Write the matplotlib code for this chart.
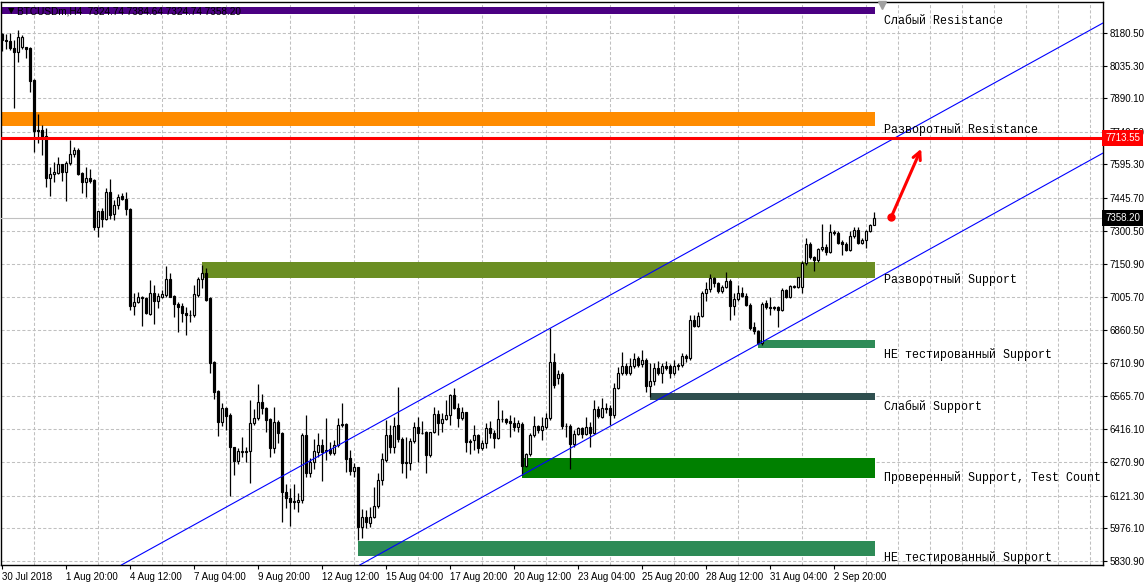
import matplotlib
matplotlib.use("Agg")
import numpy as np
import matplotlib.pyplot as plt
import matplotlib.transforms as mtransforms
from matplotlib.ticker import MultipleLocator

plt.rcParams['font.family'] = ['Liberation Sans', 'DejaVu Sans']

# === Dati: BTCUSDm, H4 ===
opens = [8175, 8150, 8146, 8112, 8097, 8116, 8116, 8112, 7971, 7750,
         7749, 7722, 7537, 7551, 7559, 7596, 7563, 7600, 7640, 7660,
         7556, 7519, 7534, 7525, 7318, 7388, 7353, 7471, 7373, 7413,
         7455, 7440, 7397, 6967, 6985, 7000, 7003, 6930, 7022, 6989,
         7007, 7014, 7086, 7010, 6974, 6965, 6936, 6927, 6924, 7014,
         7084, 7111, 6999, 6715, 6587, 6451, 6510, 6480, 6337, 6277,
         6316, 6320, 6319, 6443, 6466, 6537, 6510, 6461, 6332, 6451,
         6399, 6136, 6110, 6098, 6092, 6102, 6391, 6224, 6273, 6317,
         6347, 6320, 6328, 6310, 6347, 6436, 6440, 6288, 6231, 6248,
         5984, 6028, 6001, 6025, 6077, 6191, 6280, 6391, 6340, 6436,
         6372, 6268, 6265, 6365, 6425, 6399, 6403, 6302, 6403, 6483,
         6446, 6461, 6480, 6569, 6510, 6465, 6492, 6362, 6369, 6391,
         6335, 6354, 6421, 6402, 6377, 6461, 6461, 6454, 6443, 6425,
         6440, 6254, 6307, 6391, 6431, 6414, 6428, 6466, 6718, 6643,
         6663, 6433, 6431, 6351, 6394, 6421, 6394, 6428, 6402, 6506,
         6473, 6510, 6510, 6480, 6599, 6669, 6698, 6669, 6698, 6732,
         6707, 6725, 6611, 6632, 6688, 6666, 6698, 6698, 6666, 6698,
         6703, 6743, 6733, 6903, 6876, 6921, 7022, 7040, 7088, 7066,
         7034, 7051, 7077, 6967, 6995, 7025, 7010, 6970, 6870, 6856,
         6799, 6980, 6962, 6962, 6962, 6948, 7037, 7004, 7050, 7051,
         7051, 7158, 7241, 7182, 7170, 7219, 7226, 7207, 7295, 7290,
         7250, 7241, 7215, 7277, 7303, 7247, 7259, 7299, 7324.74]
highs = [8182, 8176, 8182, 8149, 8194, 8171, 8120, 8119, 7975, 7820,
         7771, 7756, 7585, 7605, 7630, 7599, 7612, 7704, 7674, 7667,
         7563, 7582, 7575, 7530, 7390, 7400, 7489, 7531, 7437, 7464,
         7470, 7474, 7400, 7022, 7026, 7010, 7007, 7081, 7059, 7022,
         7037, 7143, 7111, 7014, 6985, 6977, 6962, 6948, 7059, 7096,
         7148, 7133, 7005, 6720, 6590, 6532, 6515, 6488, 6340, 6332,
         6381, 6337, 6547, 6507, 6618, 6574, 6517, 6466, 6517, 6458,
         6406, 6172, 6154, 6172, 6132, 6399, 6480, 6288, 6372, 6399,
         6372, 6466, 6362, 6369, 6466, 6532, 6443, 6325, 6266, 6250,
         6061, 6058, 6073, 6162, 6221, 6310, 6458, 6436, 6473, 6606,
         6384, 6384, 6377, 6451, 6473, 6455, 6410, 6406, 6514, 6501,
         6488, 6547, 6576, 6599, 6532, 6517, 6495, 6372, 6436, 6394,
         6369, 6443, 6455, 6414, 6547, 6502, 6465, 6480, 6473, 6458,
         6450, 6310, 6399, 6476, 6436, 6473, 6488, 6866, 6755, 6681,
         6670, 6443, 6440, 6414, 6428, 6428, 6473, 6451, 6547, 6520,
         6555, 6532, 6525, 6622, 6695, 6762, 6710, 6732, 6755, 6745,
         6770, 6732, 6710, 6710, 6722, 6710, 6722, 6707, 6725, 6710,
         6758, 6750, 6925, 6925, 6940, 7030, 7073, 7108, 7093, 7074,
         7060, 7118, 7085, 7022, 7059, 7051, 7022, 6977, 6896, 6860,
         6982, 6990, 7007, 6965, 6967, 7045, 7040, 7059, 7060, 7096,
         7165, 7266, 7250, 7190, 7225, 7330, 7240, 7330, 7302, 7300,
         7260, 7250, 7300, 7315, 7315, 7270, 7305, 7330, 7384.64]
lows = [8102, 8108, 8105, 7845, 8053, 8110, 8067, 7919, 7652, 7689,
        7637, 7496, 7456, 7519, 7553, 7522, 7434, 7593, 7630, 7548,
        7467, 7449, 7511, 7304, 7274, 7318, 7348, 7351, 7348, 7397,
        7437, 7370, 6948, 6924, 6977, 6878, 6930, 6927, 6884, 6955,
        6999, 7007, 7004, 6918, 6851, 6896, 6836, 6896, 6918, 7007,
        7044, 6988, 6666, 6550, 6388, 6431, 6414, 6121, 6213, 6261,
        6295, 6273, 6179, 6436, 6458, 6485, 6406, 6295, 6310, 6354,
        6006, 6065, 5988, 6061, 6047, 6087, 6206, 6206, 6239, 6295,
        6188, 6280, 6302, 6302, 6340, 6428, 6225, 6213, 6206, 5924,
        5935, 5976, 5984, 6021, 6065, 6169, 6273, 6310, 6310, 6362,
        6221, 6199, 6236, 6354, 6273, 6395, 6224, 6295, 6399, 6391,
        6406, 6458, 6436, 6505, 6426, 6460, 6317, 6307, 6325, 6310,
        6325, 6332, 6380, 6332, 6372, 6450, 6440, 6384, 6410, 6406,
        6213, 6250, 6300, 6384, 6402, 6369, 6420, 6460, 6600, 6620,
        6420, 6384, 6239, 6340, 6391, 6380, 6390, 6340, 6394, 6465,
        6465, 6490, 6436, 6465, 6595, 6660, 6660, 6660, 6690, 6695,
        6695, 6584, 6562, 6614, 6658, 6621, 6680, 6644, 6658, 6680,
        6695, 6715, 6725, 6870, 6870, 6915, 6989, 7029, 7050, 7025,
        7025, 7045, 6903, 6925, 6988, 7005, 6965, 6860, 6840, 6795,
        6790, 6950, 6925, 6948, 6870, 6945, 7000, 7000, 7045, 7045,
        7022, 7150, 7175, 7123, 7160, 7210, 7192, 7200, 7283, 7240,
        7192, 7212, 7210, 7270, 7240, 7240, 7222, 7295, 7324.74]
closes = [8150, 8146, 8112, 8097, 8161, 8164, 8110, 7968, 7746, 7746,
          7719, 7537, 7553, 7562, 7597, 7563, 7600, 7642, 7660, 7553,
          7519, 7534, 7523, 7318, 7388, 7353, 7471, 7370, 7413, 7452,
          7440, 7396, 6966, 6985, 7007, 7007, 6933, 7022, 6989, 7010,
          7019, 7086, 7007, 6973, 6963, 6933, 6924, 6924, 7017, 7086,
          7111, 6992, 6713, 6584, 6451, 6510, 6477, 6337, 6277, 6320,
          6320, 6316, 6443, 6466, 6537, 6510, 6458, 6335, 6451, 6399,
          6136, 6110, 6095, 6092, 6102, 6391, 6224, 6273, 6320, 6347,
          6317, 6323, 6310, 6347, 6436, 6440, 6285, 6231, 6251, 5984,
          6025, 6006, 6025, 6077, 6191, 6285, 6391, 6340, 6431, 6372,
          6265, 6270, 6365, 6425, 6399, 6402, 6302, 6403, 6483, 6446,
          6461, 6480, 6569, 6510, 6465, 6495, 6362, 6365, 6391, 6335,
          6354, 6421, 6402, 6377, 6461, 6463, 6451, 6443, 6425, 6443,
          6254, 6307, 6391, 6431, 6414, 6431, 6466, 6718, 6614, 6663,
          6433, 6430, 6351, 6394, 6421, 6394, 6428, 6402, 6506, 6476,
          6510, 6506, 6480, 6599, 6669, 6698, 6669, 6698, 6728, 6703,
          6725, 6610, 6632, 6688, 6666, 6698, 6688, 6666, 6698, 6703,
          6743, 6732, 6903, 6876, 6921, 7022, 7040, 7088, 7066, 7034,
          7051, 7077, 6967, 6995, 7025, 7010, 6970, 6869, 6856, 6799,
          6974, 6960, 6955, 6955, 6948, 7037, 7004, 7054, 7056, 7093,
          7158, 7241, 7182, 7170, 7219, 7226, 7207, 7295, 7290, 7247,
          7241, 7215, 7277, 7303, 7247, 7259, 7299, 7325, 7358.20]

date_ticks = [0, 16, 32, 48, 64, 80, 96, 112, 128, 144, 160, 176, 192, 208]
date_labels = ['30 Jul 2018', '1 Aug 20:00', '4 Aug 12:00', '7 Aug 04:00',
               '9 Aug 20:00', '12 Aug 12:00', '15 Aug 04:00', '17 Aug 20:00',
               '20 Aug 12:00', '23 Aug 04:00', '25 Aug 20:00', '28 Aug 12:00',
               '31 Aug 04:00', '2 Sep 20:00']
price_ticks = [8180.50, 8035.30, 7890.10, 7740.50, 7595.30, 7445.70, 7300.50,
               7150.90, 7005.70, 6860.50, 6710.90, 6565.70, 6416.10, 6270.90,
               6121.30, 5976.10, 5830.90]

# zone supporto / resistenza
zone_names = ['Слабый Resistance', 'Разворотный Resistance', 'Разворотный Support',
              'НЕ тестированный Support', 'Слабый Support',
              'Проверенный Support, Test Count: 1', 'НЕ тестированный Support']
zone_top = [8296, 7828, 7161, 6814, 6578, 6289, 5920]
zone_bottom = [8265, 7768, 7090, 6778, 6547, 6200, 5853]
zone_start = [-1, -1, 50, 189, 162, 130, 89]
zone_colors = ['#4b0082', '#ff8c00', '#6b8e23', '#2e8b57', '#2f4f4f', '#008000', '#2e8b57']
label_dy = [-3.6, -1.4, 0.7, -2.9, -2.9, 2.2, 0.7]   # spostamento etichette (pt)

upper_channel = [(137, 6866), (218, 7662)]
lower_channel = [(130, 6213), (189, 6795)]
reversal_level = 7713.55
bid = 7358.20
arrow_from = (222.3, 7361)
arrow_to = (229.8, 7665)
header = 'BTCUSDm,H4  7324.74 7384.64 7324.74 7358.20'

# === Grafico ===
W, H = 1148, 585
fig = plt.figure(figsize=(W / 100, H / 100), dpi=100)
ax = fig.add_axes([1 / W, 20 / H, 1102 / W, 563 / H])
ax.set_xlim(-0.25, 275.25)
ax.set_ylim(5813, 8318)

grid_kw = dict(color='#c0c0c0', lw=0.75, linestyle=(0, (3, 2)))
ax.xaxis.set_minor_locator(MultipleLocator(8))
ax.grid(True, which='minor', axis='x', **grid_kw)
ax.grid(True, which='major', axis='y', **grid_kw)
ax.set_axisbelow(True)

# zone
zone_end = 218.3
for top, bot, start, col in zip(zone_top, zone_bottom, zone_start, zone_colors):
    ax.fill_between([start, zone_end], bot, top, color=col, lw=0, zorder=2)
for name, bot, dy in zip(zone_names, zone_bottom, label_dy):
    ax.annotate(name, (220.5, bot), xytext=(0, dy - 1.5), textcoords='offset points',
                va='center', ha='left', fontsize=8.4, family='Liberation Mono',
                annotation_clip=False, clip_on=True, zorder=7)

ax.axhline(bid, color='#c0c0c0', lw=0.8, zorder=3)
ax.axline(*upper_channel, color='blue', lw=0.8, zorder=6)
ax.axline(*lower_channel, color='blue', lw=0.8, zorder=6)
ax.axhline(reversal_level, color='red', lw=2.2, zorder=6)

# candele
O, Hh, L, C = map(np.array, (opens, highs, lows, closes))
x = np.arange(len(O))
up = C >= O
ax.vlines(x, L, Hh, color='black', lw=0.9, zorder=4)
body_lo = np.minimum(O, C)
body_h = np.abs(C - O)
ax.bar(x[up], body_h[up], bottom=body_lo[up], width=0.6, facecolor='white',
       edgecolor='black', lw=0.85, zorder=5)
ax.bar(x[~up], body_h[~up], bottom=body_lo[~up], width=0.6, facecolor='black',
       edgecolor='black', lw=0.85, zorder=5)

# freccia
ax.annotate('', xy=arrow_to, xytext=arrow_from,
            arrowprops=dict(arrowstyle='->', color='red', lw=2.2, mutation_scale=14,
                            shrinkA=0, shrinkB=0), zorder=8)
ax.plot(*arrow_from, 'o', color='red', ms=5, zorder=8)

# assi
ax.yaxis.tick_right()
ax.set_yticks(price_ticks)
ax.set_yticklabels([f'{p:.2f}' for p in price_ticks])
ax.set_xticks(date_ticks)
ax.set_xticklabels(date_labels, ha='left')
ax.tick_params(axis='both', which='major', direction='out', length=3, width=0.8,
               labelsize=7, pad=2, colors='black')
ax.tick_params(axis='x', which='minor', length=0)
for s in ax.spines.values():
    s.set_color('black')
    s.set_linewidth(1)

trans = mtransforms.blended_transform_factory(ax.transAxes, ax.transData)
ax.text(1.002, reversal_level, f'{reversal_level:.2f}', transform=trans, color='white',
        fontsize=7, va='center', ha='left', clip_on=False, zorder=10,
        bbox=dict(boxstyle='square,pad=0.3', fc='red', ec='none'))
ax.text(1.002, bid, f'{bid:.2f}', transform=trans, color='white',
        fontsize=7, va='center', ha='left', clip_on=False, zorder=10,
        bbox=dict(boxstyle='square,pad=0.3', fc='black', ec='none'))

ax.text(0.0065, 0.984, '▼', transform=ax.transAxes, fontsize=6, va='center', ha='left',
        family=['DejaVu Sans'], zorder=10)
ax.text(0.0145, 0.984, header, transform=ax.transAxes, fontsize=7.2, va='center',
        ha='left', zorder=10)
ax.plot([220], [0.995], marker='v', color='#a0a0a0', ms=6,
        transform=mtransforms.blended_transform_factory(ax.transData, ax.transAxes),
        clip_on=False, zorder=10)

fig.savefig('out.png', dpi=100)
